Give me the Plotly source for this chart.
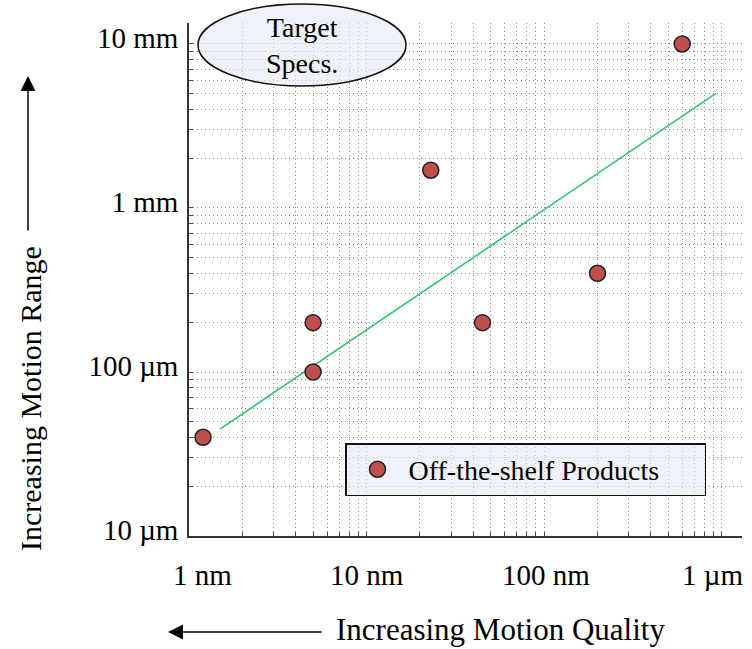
import math
import plotly.graph_objects as go

# Off-the-shelf positioning stages: motion quality (nm) vs. motion range (µm)
product_quality_nm = [1.2, 5, 5, 23, 45, 200, 600]
product_range_um = [40, 100, 200, 1700, 200, 400, 10000]

# Trend line end points (nm, µm)
trend_quality_nm = [1.5, 930]
trend_range_um = [45, 5000]

# Axis decades and their labels
x_decades = [1, 10, 100, 1000]
x_decade_labels = ["1 nm", "10 nm", "100 nm", "1 µm"]
x_label_nudge = [13, 0, 2, -9]  # px, keeps the outer labels inside the page
y_decades = [10, 100, 1000, 10000]
y_decade_labels = ["10 µm", "100 µm", "1 mm", "10 mm"]

FONT = "Liberation Serif"
W, H = 752, 649
ML, MR, MT, MB = 189, 10, 23, 113
PW, PH = W - ML - MR, H - MT - MB


def px(x):
    return (x - ML) / PW


def py(y):
    return (H - MB - y) / PH


def log_ticks(decades):
    # 1..9 multiples of every decade, up to the last decade
    vals = []
    for d in decades:
        for k in range(1, 10):
            if d * k > decades[-1]:
                break
            vals.append(d * k)
    return vals


def tick_text(vals, decades, labels):
    m = dict(zip(decades, labels))
    return [m.get(v, "") for v in vals]


xt = log_ticks(x_decades)
yt = log_ticks(y_decades)

fig = go.Figure()

fig.add_trace(go.Scatter(
    x=trend_quality_nm, y=trend_range_um, mode="lines",
    line=dict(color="#2fc66e", width=1.6), showlegend=False, hoverinfo="skip",
))

fig.add_trace(go.Scatter(
    x=product_quality_nm, y=product_range_um, mode="markers",
    name="Off-the-shelf Products",
    marker=dict(size=16, color="#c0504d", line=dict(color="#222222", width=1.5)),
))

grid = dict(gridcolor="#888888", griddash="1px,3px", gridwidth=1)

fig.update_xaxes(
    type="log", range=[0, 3.115],
    tickvals=xt, showticklabels=False,
    ticks="inside", ticklen=4, tickcolor="#555555", tickwidth=1,
    showline=True, linecolor="#333333", linewidth=1.5, mirror=False,
    zeroline=False, **grid,
)
fig.update_yaxes(
    type="log", range=[1, 4.128],
    tickvals=yt, ticktext=tick_text(yt, y_decades, y_decade_labels),
    ticks="inside", ticklen=4, tickcolor="#555555", tickwidth=1,
    showline=True, linecolor="#333333", linewidth=1.5, mirror=False,
    tickfont=dict(family=FONT, size=29, color="black"),
    ticklabelstandoff=3, ticklabelshift=-6, zeroline=False, **grid,
)

# "Target Specs." callout
fig.add_shape(
    type="circle", xref="paper", yref="paper",
    x0=px(198), x1=px(406), y0=py(86), y1=py(4),
    fillcolor="rgba(228,235,245,0.6)", line=dict(color="#111111", width=1.5),
    layer="above",
)

annotations = [
    dict(text="Target<br>Specs.", xref="paper", yref="paper", x=px(302), y=py(45),
         xanchor="center", yanchor="middle", showarrow=False,
         font=dict(family=FONT, size=28, color="black")),
    # axis titles with direction arrows
    dict(text="Increasing Motion Range", xref="paper", yref="paper",
         x=px(30), y=py(399), xanchor="center", yanchor="middle",
         textangle=-90, showarrow=False,
         font=dict(family=FONT, size=30, color="black")),
    dict(text="", xref="paper", yref="paper", x=px(28), y=py(76),
         ax=0, ay=156, showarrow=True, arrowhead=2, arrowsize=2,
         arrowwidth=1.5, arrowcolor="black"),
    dict(text="Increasing Motion Quality", xref="paper", yref="paper",
         x=px(500), y=py(630), xanchor="center", yanchor="middle",
         showarrow=False,
         font=dict(family=FONT, size=31, color="black")),
    dict(text="", xref="paper", yref="paper", x=px(168), y=py(632),
         ax=155, ay=0, showarrow=True, arrowhead=2, arrowsize=2,
         arrowwidth=1.5, arrowcolor="black"),
]

# x decade labels, placed on the axis scale
for v, label, nudge in zip(x_decades, x_decade_labels, x_label_nudge):
    annotations.append(dict(
        text=label, xref="x", yref="paper", x=math.log10(v), y=py(575),
        xanchor="center", yanchor="middle", xshift=nudge, showarrow=False,
        font=dict(family=FONT, size=29, color="black"),
    ))

fig.update_layout(
    width=W, height=H,
    margin=dict(l=ML, r=MR, t=MT, b=MB),
    paper_bgcolor="white", plot_bgcolor="white",
    font=dict(family=FONT, color="black"),
    annotations=annotations,
    legend=dict(
        x=px(345), y=py(443), xanchor="left", yanchor="top",
        orientation="h", entrywidth=291, entrywidthmode="pixels", itemwidth=52,
        bgcolor="rgba(228,235,245,0.6)", bordercolor="#111111", borderwidth=1.5,
        font=dict(family=FONT, size=28, color="black"),
    ),
)

fig.write_html("out.html")
